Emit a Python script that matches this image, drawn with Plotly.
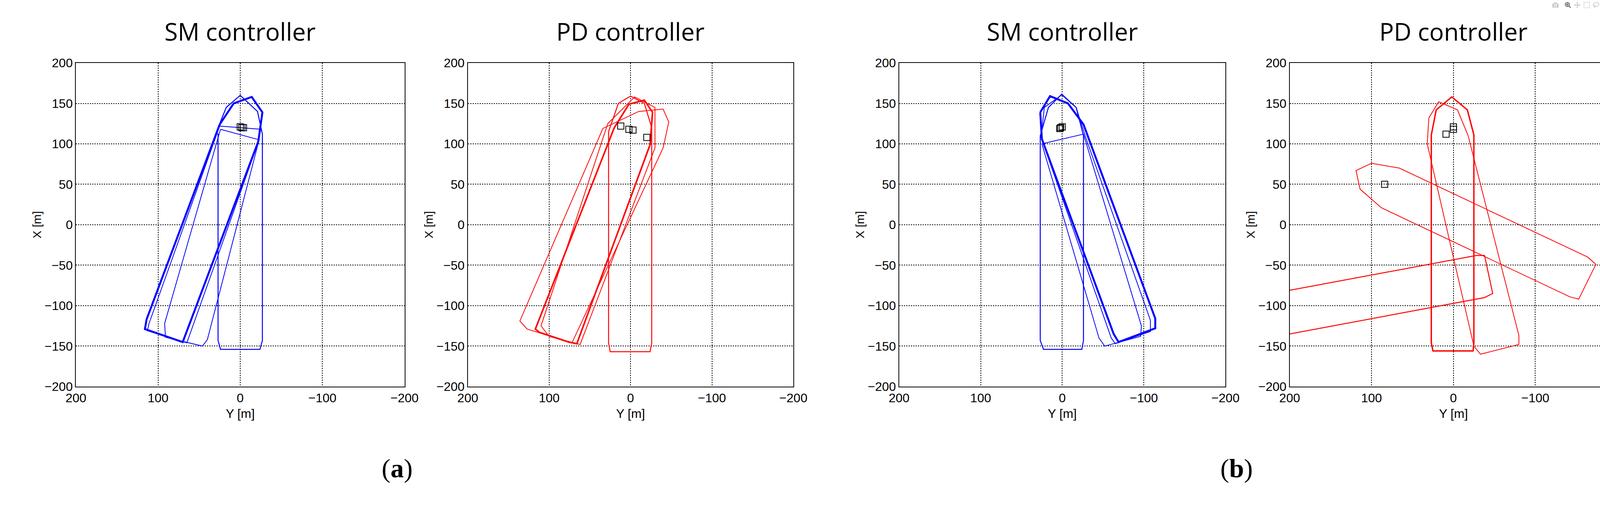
import plotly.graph_objects as go

# ---- data: (Y, X) pairs, metres ----
# panel (a) SM controller
sm_a_rect_y = [27, 27, 24, -24, -27, -27, -21, 0, 17, 25]
sm_a_rect_x = [113, -143, -154, -154, -143, 112, 140, 160, 145, 125]
sm_a_thick_y = [25, 114, 116, 70, -22, -27, -14, 8, 25]
sm_a_thick_x = [124, -117, -129, -145, 103, 139, 158, 150, 124]
sm_a_thin1_y = [25, 111, 113, 65, -22, -25, 25]
sm_a_thin1_x = [122, -122, -131, -146, 102, 118, 122]
sm_a_thin2_y = [24, 92, 91, 46, 40, -23, 24]
sm_a_thin2_x = [118, -122, -139, -150, -142, 105, 118]
sm_a_mark_y = [-2, 0, -4]
sm_a_mark_x = [120, 121, 120]

# panel (a) PD controller
pd_a_rect_y = [27, 27, 25, -24, -26, -26, -17, 0, 15, 27]
pd_a_rect_x = [115, -146, -157, -157, -146, 120, 150, 159, 150, 115]
pd_a_thick_y = [20, 117, 112, 76, 66, -24, -27, -17, 2, 20]
pd_a_thick_x = [120, -129, -133, -145, -147, 99, 139, 154, 149, 120]
pd_a_thin1_y = [34, 136, 127, 72, -40, -47, -40, -10, 34]
pd_a_thin1_x = [119, -119, -129, -146, 95, 127, 143, 140, 119]
pd_a_thin2_y = [28, 110, 100, 62, -30, -30, -5, 28]
pd_a_thin2_x = [125, -125, -138, -148, 95, 145, 158, 125]
pd_a_mark_y = [12, 2, -3, -20]
pd_a_mark_x = [122, 118, 117, 108]

# panel (b) SM controller
sm_b_rect_y = [27, 27, 23, -24, -26, -26, -17, 1, 17, 27]
sm_b_rect_x = [110, -143, -154, -154, -143, 110, 145, 161, 145, 110]
sm_b_thick_y = [27, 15, -7, -26, -114, -114, -69, -63, 25, 27]
sm_b_thick_x = [139, 159, 150, 124, -116, -128, -145, -135, 106, 139]
sm_b_thin1_y = [26, 22, 0, -17, -28, -108, -108, -65, -60, 26]
sm_b_thin1_x = [108, 145, 161, 145, 110, -118, -132, -147, -140, 108]
sm_b_thin2_y = [25, -26, -97, -96, -52, -45, 25]
sm_b_thin2_x = [100, 112, -125, -138, -150, -140, 100]
sm_b_mark_y = [2, 0, 3]
sm_b_mark_x = [120, 121, 119]

# panel (b) PD controller
pd_b_rect_y = [27, 27, 25, -24, -25, -25, -17, 2, 21, 27]
pd_b_rect_x = [111, -146, -156, -156, -146, 111, 142, 158, 142, 111]
pd_b_loop1_y = [30, 18, -5, -18, -80, -80, -33, -25, 32, 30]
pd_b_loop1_x = [132, 152, 142, 110, -137, -148, -160, -150, 100, 132]
pd_b_loop2_y = [100, 66, -164, -174, -153, -142, 88, 114, 119, 100]
pd_b_loop2_x = [76, 70, -40, -49, -92, -89, 21, 44, 67, 76]
pd_b_loop3_y = [200, -28, -38, -48, -38, 200]
pd_b_loop3_x = [-81, -38, -38, -85, -90, -135]
pd_b_mark_y = [9, 0, 0, 84]
pd_b_mark_x = [112, 118, 121, 50]

BLUE = "#0000ff"
RED = "#ff0000"

panels = [
    ("SM controller", BLUE, [(sm_a_rect_y, sm_a_rect_x, 2.5), (sm_a_thick_y, sm_a_thick_x, 5),
                             (sm_a_thin1_y, sm_a_thin1_x, 2), (sm_a_thin2_y, sm_a_thin2_x, 2)],
     (sm_a_mark_y, sm_a_mark_x)),
    ("PD controller", RED, [(pd_a_rect_y, pd_a_rect_x, 2.5), (pd_a_thick_y, pd_a_thick_x, 4),
                            (pd_a_thin1_y, pd_a_thin1_x, 2), (pd_a_thin2_y, pd_a_thin2_x, 2)],
     (pd_a_mark_y, pd_a_mark_x)),
    ("SM controller", BLUE, [(sm_b_rect_y, sm_b_rect_x, 2.5), (sm_b_thick_y, sm_b_thick_x, 5),
                             (sm_b_thin1_y, sm_b_thin1_x, 2), (sm_b_thin2_y, sm_b_thin2_x, 2)],
     (sm_b_mark_y, sm_b_mark_x)),
    ("PD controller", RED, [(pd_b_rect_y, pd_b_rect_x, 3.5), (pd_b_loop1_y, pd_b_loop1_x, 2),
                            (pd_b_loop2_y, pd_b_loop2_x, 2), (pd_b_loop3_y, pd_b_loop3_x, 2.5)],
     (pd_b_mark_y, pd_b_mark_x)),
]

domains = [(0.0401, 0.2417), (0.2805, 0.4802), (0.5451, 0.7453), (0.7847, 0.9856)]
ydom = (0.2439, 0.8886)

fig = go.Figure()
annotations = []
for i, (title, color, tracks, marks) in enumerate(panels):
    n = "" if i == 0 else str(i + 1)
    for ty, tx, w in tracks:
        fig.add_trace(go.Scatter(x=ty, y=tx, mode="lines", xaxis="x" + n, yaxis="y" + n,
                                 line=dict(color=color, width=w), showlegend=False))
    fig.add_trace(go.Scatter(x=marks[0], y=marks[1], mode="markers", xaxis="x" + n, yaxis="y" + n,
                             marker=dict(symbol="square-open", size=16, color="black",
                                         line=dict(width=2)), showlegend=False))
    axstyle = dict(showgrid=True, gridcolor="black", griddash="dot", gridwidth=1.5,
                   showline=True, linecolor="black", linewidth=1.5, mirror=True,
                   zeroline=False, ticks="", tickfont=dict(family="Liberation Sans", size=32, color="black"))
    fig.layout["xaxis" + n] = dict(domain=domains[i], range=[200, -200], anchor="y" + n,
                                   tickvals=[200, 100, 0, -100, -200],
                                   ticktext=["200", "100", "0", "\u2212100", "\u2212200"],
                                   title=dict(text="Y [m]", font=dict(family="Liberation Sans", size=32, color="black"),
                                              standoff=12), **axstyle)
    fig.layout["yaxis" + n] = dict(domain=ydom, range=[-200, 200], anchor="x" + n,
                                   tickvals=[-200, -150, -100, -50, 0, 50, 100, 150, 200],
                                   ticktext=["\u2212200", "\u2212150", "\u2212100", "\u221250", "0",
                                             "50", "100", "150", "200"],
                                   title=dict(text="X [m]", font=dict(family="Liberation Sans", size=30, color="black"),
                                              standoff=0), **axstyle)
    annotations.append(dict(text=title, x=sum(domains[i]) / 2, y=0.952, xref="paper", yref="paper",
                            xanchor="center", yanchor="middle", showarrow=False,
                            font=dict(family="Open Sans", size=62, color="black")))

annotations.append(dict(text="(<b>a</b>)", x=1004 / 4236, y=0.05, xref="paper", yref="paper",
                        xanchor="center", showarrow=False,
                        font=dict(family="Liberation Serif", size=68, color="black")))
annotations.append(dict(text="(<b>b</b>)", x=3186 / 4236, y=0.05, xref="paper", yref="paper",
                        xanchor="center", showarrow=False,
                        font=dict(family="Liberation Serif", size=68, color="black")))

fig.update_layout(width=4236, height=1320, margin=dict(l=0, r=0, t=0, b=0),
                  plot_bgcolor="white", paper_bgcolor="white", annotations=annotations)

fig.write_html("out.html",
               post_script="document.body.style.margin='0';document.body.style.overflow='hidden';")
